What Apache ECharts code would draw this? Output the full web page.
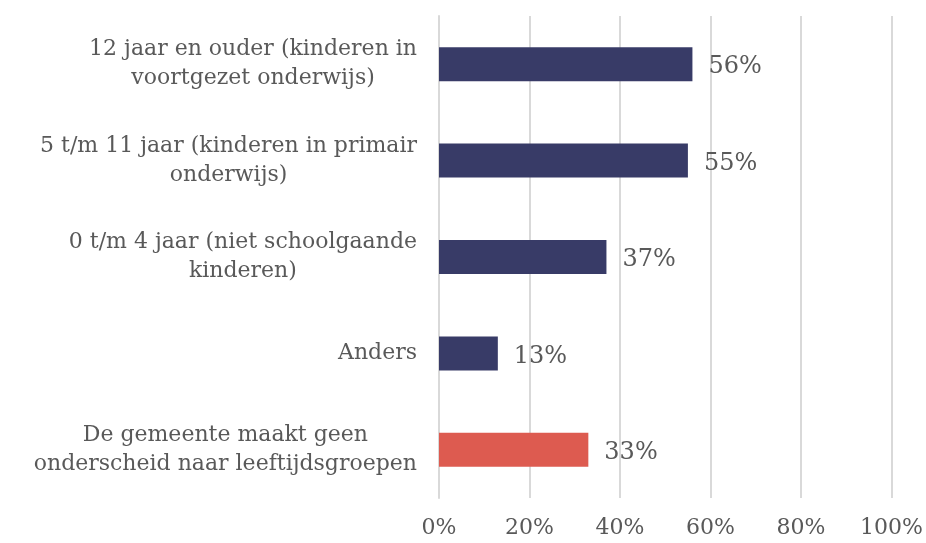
<!DOCTYPE html>
<html>
<head>
<meta charset="utf-8">
<script src="https://cdn.jsdelivr.net/npm/echarts@6/dist/echarts.min.js"></script>
<style>html,body{margin:0;padding:0;background:#fff}#c{width:926px;height:543px}</style>
</head>
<body>
<div id="c"></div>
<script>
const categories = [
  "12 jaar en ouder (kinderen in\nvoortgezet onderwijs)",
  "5 t/m 11 jaar (kinderen in primair\nonderwijs)",
  "0 t/m 4 jaar (niet schoolgaande\nkinderen)",
  "Anders",
  "De gemeente maakt geen\nonderscheid naar leeftijdsgroepen"
];
const values = [56, 55, 37, 13, 33];
const barColors = ["#383B67", "#383B67", "#383B67", "#383B67", "#DD5B50"];
const xTicks = [0, 20, 40, 60, 80, 100];

const FONT = "DejaVu Serif";
const chart = echarts.init(document.getElementById('c'));
chart.setOption({
  animation: false,
  grid: { left: 439, right: 33, top: 16, bottom: 45, containLabel: false },
  xAxis: {
    type: 'value', min: 0, max: 100, interval: 20,
    axisLine: { show: false }, axisTick: { show: false },
    splitLine: { lineStyle: { color: '#D9D9D9', width: 2 } },
    axisLabel: { formatter: v => xTicks.includes(v) ? v + '%' : '', color: '#595959', fontFamily: FONT, fontSize: 22, margin: 19 }
  },
  yAxis: {
    type: 'category', inverse: true, data: categories,
    axisLine: { show: true, lineStyle: { color: '#D9D9D9', width: 2 } },
    axisTick: { show: false },
    axisLabel: {
      margin: 22,
      formatter: v => v.split('\n').map(s => '{a|' + s + '}').join('\n'),
      rich: { a: { align: 'center', color: '#595959', fontFamily: FONT, fontSize: 22, lineHeight: 29 } }
    }
  },
  series: [{
    type: 'bar', barWidth: 34,
    data: values.map((v, i) => ({ value: v, itemStyle: { color: barColors[i] } })),
    label: { show: true, position: 'right', distance: 16, offset: [0, 3], formatter: p => p.value + '%', color: '#595959', fontFamily: FONT, fontSize: 24 }
  }]
});
</script>
</body>
</html>
